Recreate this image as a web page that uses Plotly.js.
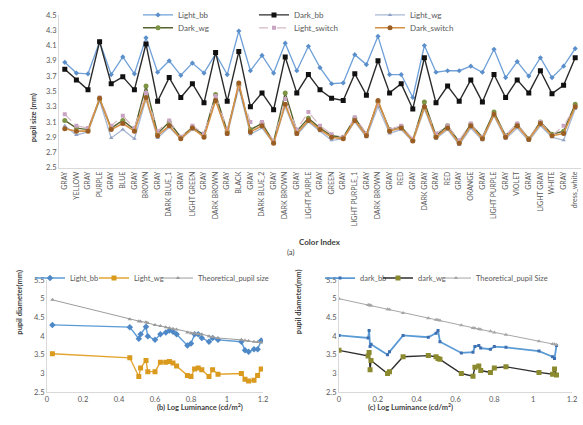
<!DOCTYPE html>
<html>
<head>
<meta charset="utf-8">
<script src="https://cdn.plot.ly/plotly-3.0.1.min.js"></script>
<style>html,body{margin:0;padding:0;background:#fff;}#chart{width:583px;height:425px;}</style>
</head>
<body>
<div id="chart"></div>
<script>
// ---- (a) Color index chart ----
const categories = ['GRAY','YELLOW','GRAY','PURPLE','GRAY','BLUE','GRAY','BROWN','GRAY','DARK BLUE_1','GRAY','LIGHT GREEN','GRAY','DARK BROWN','GRAY','BLACK','GRAY','DARK BLUE_2','GRAY','DARK BROWN','GRAY','LIGHT PURPLE','GRAY','GREEN','GRAY','LIGHT PURPLE_1','GRAY','DARK BROWN','GRAY','RED','GRAY','DARK GRAY','GRAY','RED','GRAY','ORANGE','GRAY','LIGHT PURPLE','GRAY','VIOLET','GRAY','LIGHT GRAY','WHITE','GRAY','dress_white'];
const lightBB = [3.88,3.74,3.73,4.15,3.72,3.95,3.73,4.20,3.75,3.90, 3.71,3.87,3.74,3.99,3.72,4.29,3.77,3.97,3.74,4.13, 3.77,4.09,3.81,3.60,3.61,3.98,3.85,4.22,3.72,3.72, 3.42,4.10,3.75,3.77,3.77,3.83,3.75,4.05,3.68,3.89, 3.70,3.94,3.68,3.83,4.06];
const darkBB = [3.79,3.65,3.52,4.15,3.60,3.69,3.52,4.12,3.37,3.68, 3.42,3.60,3.35,4.01,3.37,4.02,3.30,3.48,3.26,3.95, 3.48,3.72,3.52,3.41,3.38,3.73,3.45,3.90,3.48,3.60, 3.27,3.94,3.35,3.57,3.37,3.65,3.36,3.72,3.42,3.65, 3.48,3.77,3.47,3.58,3.94];
const lightWG = [3.05,2.93,2.97,3.38,2.89,3.00,2.88,3.40,2.89,3.03, 2.88,3.00,2.94,3.40,2.93,3.55,2.94,3.02,2.82,3.30, 2.93,3.10,2.98,2.86,2.88,3.10,2.90,3.30,2.95,3.00, 2.84,3.27,2.88,3.00,2.80,3.02,2.86,3.18,2.88,3.02, 2.85,3.05,2.90,2.86,3.27];
const darkWG = [3.12,3.02,3.00,3.40,3.02,3.12,3.00,3.57,2.95,3.10, 2.90,3.03,2.93,3.46,2.98,3.58,3.00,3.08,2.84,3.48, 2.98,3.15,3.02,2.92,2.90,3.15,2.94,3.36,3.00,3.04, 2.86,3.36,2.92,3.05,2.84,3.07,2.90,3.23,2.92,3.07, 2.88,3.10,2.94,2.98,3.33];
const lightSwitch = [3.20,3.05,3.02,3.42,3.05,3.18,3.02,3.48,2.98,3.12, 2.90,3.05,2.95,3.44,3.00,3.56,3.10,3.10,2.85,3.40, 3.00,3.23,3.05,2.94,2.90,3.16,2.95,3.33,3.00,3.05, 2.88,3.30,2.95,3.05,2.86,3.08,2.90,3.20,2.92,3.08, 2.88,3.10,2.92,3.05,3.30];
const darkSwitch = [3.01,2.98,2.98,3.41,3.00,3.08,2.98,3.42,2.92,3.05, 2.88,3.02,2.90,3.38,2.95,3.61,2.97,3.05,2.82,3.33, 2.95,3.12,3.00,2.90,2.88,3.12,2.92,3.38,2.98,3.02, 2.85,3.30,2.90,3.02,2.82,3.05,2.88,3.20,2.90,3.05, 2.87,3.08,2.92,2.95,3.30];

// ---- (b) light condition vs log luminance ----
const lumB = [0.03,0.46,0.51,0.52,0.55,0.56,0.60,0.63,0.66,0.68,0.70,0.72,0.78,0.80,0.82,0.84,0.86,0.90,0.92,0.95,1.08,1.10,1.12,1.15,1.17,1.19];
const bLightBB = [4.30,4.24,3.93,4.05,4.25,4.00,3.90,4.05,4.10,4.15,4.12,4.05,3.75,3.80,4.05,4.05,3.95,3.85,3.95,3.90,3.85,3.62,3.58,3.65,3.65,3.88];
const bLightWG = [3.53,3.42,2.92,3.15,3.35,3.05,3.05,3.30,3.30,3.32,3.28,3.20,2.95,2.92,3.12,3.15,3.10,2.92,3.10,2.98,3.00,2.85,2.80,2.82,2.95,3.12];
const bTheory = [4.97,4.45,4.40,4.39,4.37,4.35,4.30,4.27,4.24,4.22,4.20,4.18,4.10,4.08,4.07,4.06,4.05,4.00,3.98,3.95,3.90,3.88,3.87,3.85,3.84,3.83];

// ---- (c) dark condition vs log luminance ----
const lumC = [0.00,0.15,0.155,0.16,0.165,0.25,0.26,0.33,0.46,0.50,0.51,0.52,0.63,0.69,0.70,0.72,0.73,0.78,0.80,0.86,1.03,1.10,1.11,1.12];
const cDarkBB = [4.02,3.95,4.15,3.72,3.78,3.50,3.58,4.02,3.97,4.08,4.15,3.85,3.55,3.57,3.72,3.75,3.68,3.65,3.72,3.70,3.60,3.45,3.40,3.75];
const cDarkWG = [3.62,3.47,3.56,3.10,3.35,3.00,3.05,3.45,3.48,3.45,3.40,3.38,3.00,2.93,3.17,3.20,3.08,3.03,3.15,3.18,3.03,2.98,3.12,2.96];
const cTheory = [5.00,4.83,4.83,4.82,4.82,4.72,4.71,4.62,4.48,4.44,4.43,4.42,4.29,4.22,4.21,4.19,4.18,4.13,4.10,4.04,3.86,3.79,3.78,3.77];

const W = 583, H = 425;
const px = p => p / W;
const py = p => 1 - p / H;
const idx = categories.map((c, i) => i);

function tr(name, x, y, xa, ya, lg, color, sym, mcolor, msize, dash, lw) {
  return {
    type: 'scatter', mode: 'lines+markers', name: name, x: x, y: y,
    xaxis: xa, yaxis: ya, legend: lg,
    line: {color: color, width: lw || 1.3, dash: dash || 'solid'},
    marker: {symbol: sym, color: mcolor, size: msize, line: {width: 0}}
  };
}

const data = [
  tr('Light_bb', idx, lightBB, 'x', 'y', 'legend', '#6FA0D8', 'diamond', '#5B8FCB', 4),
  tr('Dark_bb', idx, darkBB, 'x', 'y', 'legend', '#2B2B2B', 'square', '#111111', 5, 'solid', 1.4),
  tr('Light_wg', idx, lightWG, 'x', 'y', 'legend', '#A8B8D4', 'triangle-up', '#8FA2C4', 4),
  tr('Dark_wg', idx, darkWG, 'x', 'y', 'legend2', '#55622F', 'circle', '#7E9445', 5, 'solid', 1.4),
  tr('Light_switch', idx, lightSwitch, 'x', 'y', 'legend2', '#D6B9C4', 'square', '#C9A3C2', 4, 'dash', 1.2),
  tr('Dark_switch', idx, darkSwitch, 'x', 'y', 'legend2', '#D49045', 'circle', '#9A5E24', 5, 'solid', 1.6),

  tr('Light_bb', lumB, bLightBB, 'x2', 'y2', 'legend3', '#5B9BD5', 'diamond', '#4F88C6', 5, 'solid', 1.4),
  tr('Light_wg', lumB, bLightWG, 'x2', 'y2', 'legend7', '#E3A42F', 'square', '#D99A1E', 5, 'solid', 1.4),
  tr('Theoretical_pupil size', lumB, bTheory, 'x2', 'y2', 'legend5', '#9C9C9C', 'triangle-up', '#9C9C9C', 4, 'solid', 1),

  tr('dark_bb', lumC, cDarkBB, 'x3', 'y3', 'legend4', '#5B9BD5', 'square', '#3E6FB0', 3, 'solid', 1.8),
  tr('dark_wg', lumC, cDarkWG, 'x3', 'y3', 'legend8', '#2E2E2E', 'square', '#8C8A2E', 5, 'solid', 1.4),
  tr('Theoretical_pupil Size', lumC, cTheory, 'x3', 'y3', 'legend6', '#A6A6A6', 'triangle-up', '#A6A6A6', 4, 'solid', 1)
];

const axBase = {showgrid: false, zeroline: false, showline: true, linecolor: '#D9D9D9', linewidth: 1, ticks: '', tickfont: {size: 7.5, color: '#595959'}};
const legBase = {orientation: 'h', xanchor: 'left', yanchor: 'middle', bgcolor: 'rgba(0,0,0,0)', borderwidth: 0, font: {size: 8, color: '#595959'}, itemwidth: 30};
const legSmall = {font: {size: 7.5, color: '#595959'}};

const layout = {
  width: W, height: H,
  margin: {l: 0, r: 0, t: 0, b: 0},
  paper_bgcolor: '#ffffff', plot_bgcolor: '#ffffff',
  font: {family: 'Lato, "Liberation Sans", sans-serif', size: 8, color: '#595959'},
  showlegend: true,
  xaxis: Object.assign({}, axBase, {domain: [px(59), px(581)], range: [-0.5, 44.5], tickmode: 'array', tickvals: idx, ticktext: categories, tickangle: -90, tickfont: {size: 7, color: '#595959'}, anchor: 'y'}),
  yaxis: Object.assign({}, axBase, {domain: [py(166), py(12)], range: [2.5, 4.5], tick0: 2.5, dtick: 0.2, tickformat: '.1f', anchor: 'x'}),
  xaxis2: Object.assign({}, axBase, {domain: [px(47), px(263)], range: [0, 1.2], tick0: 0, dtick: 0.2, tickformat: '~g', anchor: 'y2'}),
  yaxis2: Object.assign({}, axBase, {domain: [py(392), py(279)], range: [2.5, 5.5], tick0: 2.5, dtick: 0.5, tickformat: '~g', anchor: 'x2'}),
  xaxis3: Object.assign({}, axBase, {domain: [px(339), px(572)], range: [0, 1.2], tick0: 0, dtick: 0.2, tickformat: '~g', anchor: 'y3'}),
  yaxis3: Object.assign({}, axBase, {domain: [py(392), py(279)], range: [2.5, 5.5], tick0: 2.5, dtick: 0.5, tickformat: '~g', anchor: 'x3'}),
  legend: Object.assign({}, legBase, {x: px(138), y: py(12), entrywidthmode: 'pixels', entrywidth: 71}),
  legend2: Object.assign({}, legBase, {x: px(138), y: py(25), entrywidthmode: 'pixels', entrywidth: 71}),
  legend3: Object.assign({}, legBase, legSmall, {x: px(30), y: py(277)}),
  legend7: Object.assign({}, legBase, legSmall, {x: px(94), y: py(277)}),
  legend5: Object.assign({}, legBase, legSmall, {x: px(158), y: py(277)}),
  legend4: Object.assign({}, legBase, legSmall, {x: px(320), y: py(277)}),
  legend8: Object.assign({}, legBase, legSmall, {x: px(378), y: py(277)}),
  legend6: Object.assign({}, legBase, legSmall, {x: px(436), y: py(277)}),
  annotations: [
    {text: '<b>pupil size (mm)</b>', xref: 'paper', yref: 'paper', x: px(27), y: py(89), textangle: -90, showarrow: false, font: {size: 7.5, color: '#404040'}},
    {text: '<b>Color Index</b>', xref: 'paper', yref: 'paper', x: px(320), y: py(241), showarrow: false, font: {size: 8, color: '#404040'}},
    {text: '(a)', xref: 'paper', yref: 'paper', x: px(290), y: py(251), showarrow: false, font: {size: 7.5, color: '#404040'}},
    {text: '<b>pupil diameter(mm)</b>', xref: 'paper', yref: 'paper', x: px(13), y: py(336), textangle: -90, showarrow: false, font: {size: 7.5, color: '#404040'}},
    {text: '<b>(b) Log Luminance (cd/m<sup>2</sup>)</b>', xref: 'paper', yref: 'paper', x: px(155), y: py(414), showarrow: false, font: {size: 7.5, color: '#404040'}},
    {text: '<b>pupil diameter(mm)</b>', xref: 'paper', yref: 'paper', x: px(298), y: py(336), textangle: -90, showarrow: false, font: {size: 7.5, color: '#404040'}},
    {text: '<b>(c) Log Luminance (cd/m<sup>2</sup>)</b>', xref: 'paper', yref: 'paper', x: px(455), y: py(414), showarrow: false, font: {size: 7.5, color: '#404040'}}
  ]
};

Plotly.newPlot('chart', data, layout, {staticPlot: true, displayModeBar: false});
</script>
</body>
</html>
